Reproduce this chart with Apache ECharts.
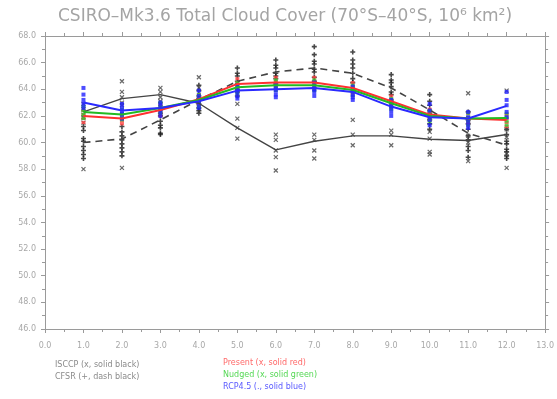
<!DOCTYPE html>
<html>
<head>
<meta charset="utf-8">
<script src="https://cdn.jsdelivr.net/npm/echarts@6/dist/echarts.min.js"></script>
<style>
  html, body { margin: 0; padding: 0; background: #fff; }
  #chart { width: 557px; height: 399px; }
</style>
</head>
<body>
<div id="chart"></div>
<script>
// Monthly total cloud cover over 70S-40S (10^6 km^2)
const months = [1, 2, 3, 4, 5, 6, 7, 8, 9, 10, 11, 12];

// Climatological means
const isccpMean = [62.3, 63.3, 63.6, 62.95, 61.1, 59.45, 60.1, 60.5, 60.5, 60.25, 60.15, 60.6];
const cfsrMean  = [60.0, 60.27, 61.7, 63.2, 64.6, 65.3, 65.6, 65.2, 64.1, 62.45, 60.7, 59.8];
const presentMean = [62.0, 61.8, 62.45, 63.25, 64.4, 64.5, 64.5, 64.1, 63.1, 62.1, 61.8, 61.7];
const nudgedMean  = [62.3, 62.1, 62.6, 63.2, 64.15, 64.3, 64.3, 63.95, 62.95, 62.0, 61.8, 61.85];
const rcpMean     = [63.0, 62.4, 62.6, 63.1, 63.9, 64.0, 64.1, 63.8, 62.7, 61.9, 61.8, 62.75];

// Individual years / members, one list per month
const cfsrYears = [
  [61.2, 60.9, 60.3, 60.1, 59.7, 59.4, 59.1, 58.8],
  [61.2, 60.8, 60.5, 60.2, 59.9, 59.6, 59.3, 59.0],
  [62.6, 62.2, 62.0, 61.6, 61.3, 61.1, 60.7, 60.6],
  [64.3, 63.9, 63.5, 63.3, 62.9, 62.6, 62.4, 62.2],
  [65.6, 65.2, 65.0, 64.6, 64.4, 64.0, 63.8, 63.5],
  [66.2, 65.8, 65.6, 65.2, 65.0, 64.8, 64.4],
  [67.2, 66.6, 66.1, 65.9, 65.5, 65.3, 64.9, 64.6],
  [66.8, 66.2, 65.9, 65.6, 65.2, 64.8, 64.5],
  [65.1, 64.7, 64.5, 64.2, 63.8, 63.6, 63.2, 63.0],
  [63.6, 63.1, 62.8, 62.4, 62.2, 61.7, 61.4, 61.0],
  [62.3, 61.7, 61.4, 61.0, 60.5, 60.2, 59.7, 59.4, 58.9],
  [61.0, 60.6, 60.1, 59.9, 59.5, 59.3, 59.0, 58.8]
];
const isccpYears = [
  [62.9, 62.5, 62.1, 61.9, 61.5, 58.0],
  [64.6, 63.8, 63.4, 63.0, 62.8, 58.1],
  [64.1, 63.8, 63.4, 63.1, 62.9],
  [64.9, 64.1, 63.2, 62.7, 62.3],
  [62.9, 61.8, 61.1, 60.3],
  [60.6, 60.2, 59.4, 58.9, 57.9],
  [60.6, 60.2, 59.4, 58.8],
  [61.7, 60.6, 59.8],
  [60.9, 60.6, 59.8],
  [60.8, 60.3, 59.3, 59.1],
  [63.7, 60.5, 60.0, 58.6],
  [63.9, 61.0, 60.4, 59.2, 58.1]
];
const presentMembers = [
  [62.4, 62.1, 61.8, 61.5], [62.1, 61.8, 61.6, 61.4], [62.8, 62.5, 62.2, 62.0],
  [63.6, 63.3, 63.0, 62.8], [64.8, 64.5, 64.2, 63.9], [64.9, 64.6, 64.3, 64.1],
  [64.9, 64.6, 64.3, 64.1], [64.5, 64.2, 63.9, 63.7], [63.5, 63.2, 62.9, 62.7],
  [62.5, 62.2, 61.9, 61.7], [62.2, 61.9, 61.6, 61.4], [62.1, 61.8, 61.5, 61.2]
];
const nudgedMembers = [
  [62.7, 62.4, 62.1, 61.8], [62.5, 62.2, 61.9, 61.7], [63.0, 62.7, 62.4, 62.2],
  [63.6, 63.3, 63.0, 62.7], [64.5, 64.2, 63.9, 63.7], [64.7, 64.4, 64.1, 63.9],
  [64.7, 64.4, 64.1, 63.9], [64.3, 64.0, 63.8, 63.5], [63.3, 63.0, 62.7, 62.5],
  [62.4, 62.1, 61.8, 61.6], [62.2, 61.9, 61.6, 61.3], [62.2, 61.9, 61.6, 61.3]
];
const rcpMembers = [
  [64.1, 63.6, 63.2, 62.9, 62.6], [62.9, 62.6, 62.3, 62.1, 61.8], [63.0, 62.8, 62.5, 62.3, 62.0],
  [63.9, 63.5, 63.2, 62.9, 62.6], [64.3, 64.0, 63.8, 63.5, 63.3], [64.4, 64.1, 63.9, 63.6, 63.4],
  [64.5, 64.2, 64.0, 63.8, 63.5], [64.2, 63.9, 63.6, 63.4, 63.2], [63.2, 62.9, 62.6, 62.3, 62.0],
  [62.9, 62.4, 62.0, 61.7, 61.3], [62.3, 61.9, 61.7, 61.4, 61.1], [63.8, 63.2, 62.8, 62.3, 61.9]
];

function pairs(vals) { return months.map((m, i) => [m, vals[i]]); }
function cloud(lists) {
  const out = [];
  lists.forEach((list, i) => list.forEach(v => out.push([months[i], v])));
  return out;
}

const axisGrey = '#9a9a9a';
const labelGrey = '#a8a8a8';
const fontFam = 'DejaVu Sans, sans-serif';

const xBase = {
  type: 'value', min: 0, max: 13, interval: 1,
  axisLine: { show: true, onZero: false, lineStyle: { color: axisGrey, width: 1 } },
  axisTick: { show: true, length: 4, lineStyle: { color: axisGrey } },
  minorTick: { show: true, splitNumber: 2, length: 3, lineStyle: { color: axisGrey } },
  splitLine: { show: false }
};
const yBase = {
  type: 'value', min: 46, max: 68, interval: 2,
  axisLine: { show: true, onZero: false, lineStyle: { color: axisGrey, width: 1 } },
  axisTick: { show: true, length: 4, lineStyle: { color: axisGrey } },
  minorTick: { show: true, splitNumber: 2, length: 3, lineStyle: { color: axisGrey } },
  splitLine: { show: false }
};

const xSym = 'path://M0,0L10,10M10,0L0,10';
const plusSym = 'path://M5,0L5,10M0,5L10,5';

const chart = echarts.init(document.getElementById('chart'), null, { renderer: 'canvas' });
chart.setOption({
  animation: false,
  backgroundColor: '#ffffff',
  title: {
    text: 'CSIRO\u2013Mk3.6 Total Cloud Cover (70\u00B0S\u201340\u00B0S, 10\u2076 km\u00B2)',
    left: 280, top: 3, textAlign: 'center',
    textStyle: { color: '#a4a4a4', fontSize: 17, fontWeight: 'normal', fontFamily: fontFam }
  },
  grid: { left: 45, right: 3, top: 36, bottom: 70, containLabel: false },
  xAxis: [
    Object.assign({}, xBase, {
      position: 'bottom',
      axisLabel: { color: labelGrey, fontSize: 8, fontFamily: fontFam, margin: 13,
        formatter: v => v.toFixed(1) }
    }),
    Object.assign({}, xBase, { position: 'top', axisLabel: { show: false } })
  ],
  yAxis: [
    Object.assign({}, yBase, {
      position: 'left',
      axisLabel: { color: labelGrey, fontSize: 8, fontFamily: fontFam, margin: 9,
        formatter: v => v.toFixed(1) }
    }),
    Object.assign({}, yBase, { position: 'right', axisLabel: { show: false } })
  ],
  series: [
    { type: 'scatter', name: 'CFSR years', data: cloud(cfsrYears), symbol: plusSym, symbolSize: 5,
      itemStyle: { color: 'rgba(0,0,0,0)', borderColor: '#1a1a1a', borderWidth: 1.6 }, z: 2 },
    { type: 'scatter', name: 'ISCCP years', data: cloud(isccpYears), symbol: xSym, symbolSize: 4,
      itemStyle: { color: 'rgba(0,0,0,0)', borderColor: '#444', borderWidth: 1.2 }, z: 2 },
    { type: 'scatter', name: 'Present members', data: cloud(presentMembers), symbol: 'rect', symbolSize: [4, 3],
      itemStyle: { color: '#ff4040' }, z: 3 },
    { type: 'scatter', name: 'Nudged members', data: cloud(nudgedMembers), symbol: 'rect', symbolSize: [4, 3],
      itemStyle: { color: '#30c830' }, z: 3 },
    { type: 'scatter', name: 'RCP members', data: cloud(rcpMembers), symbol: 'rect', symbolSize: [4, 4],
      itemStyle: { color: '#2020ff' }, z: 3 },
    { type: 'line', name: 'ISCCP', data: pairs(isccpMean), symbol: 'none',
      lineStyle: { color: '#444', width: 1.4 }, z: 4 },
    { type: 'line', name: 'CFSR', data: pairs(cfsrMean), symbol: 'none',
      lineStyle: { color: '#444', width: 1.6, type: [7, 5] }, z: 4 },
    { type: 'line', name: 'Present', data: pairs(presentMean), symbol: 'none',
      lineStyle: { color: '#ff3030', width: 2 }, z: 5 },
    { type: 'line', name: 'Nudged', data: pairs(nudgedMean), symbol: 'none',
      lineStyle: { color: '#22bb22', width: 2 }, z: 5 },
    { type: 'line', name: 'RCP4.5', data: pairs(rcpMean), symbol: 'none',
      lineStyle: { color: '#2a2aff', width: 2 }, z: 6 }
  ],
  graphic: [
    { type: 'text', left: 55, top: 361, style: { text: 'ISCCP (x, solid black)', fill: '#8a8a8a', fontSize: 8, fontFamily: fontFam } },
    { type: 'text', left: 55, top: 373, style: { text: 'CFSR (+, dash black)', fill: '#8a8a8a', fontSize: 8, fontFamily: fontFam } },
    { type: 'text', left: 223, top: 359, style: { text: 'Present (x, solid red)', fill: '#ff6a6a', fontSize: 8, fontFamily: fontFam } },
    { type: 'text', left: 223, top: 371, style: { text: 'Nudged (x, solid green)', fill: '#55d855', fontSize: 8, fontFamily: fontFam } },
    { type: 'text', left: 223, top: 383, style: { text: 'RCP4.5 (., solid blue)', fill: '#5a5aff', fontSize: 8, fontFamily: fontFam } }
  ]
});
</script>
</body>
</html>
